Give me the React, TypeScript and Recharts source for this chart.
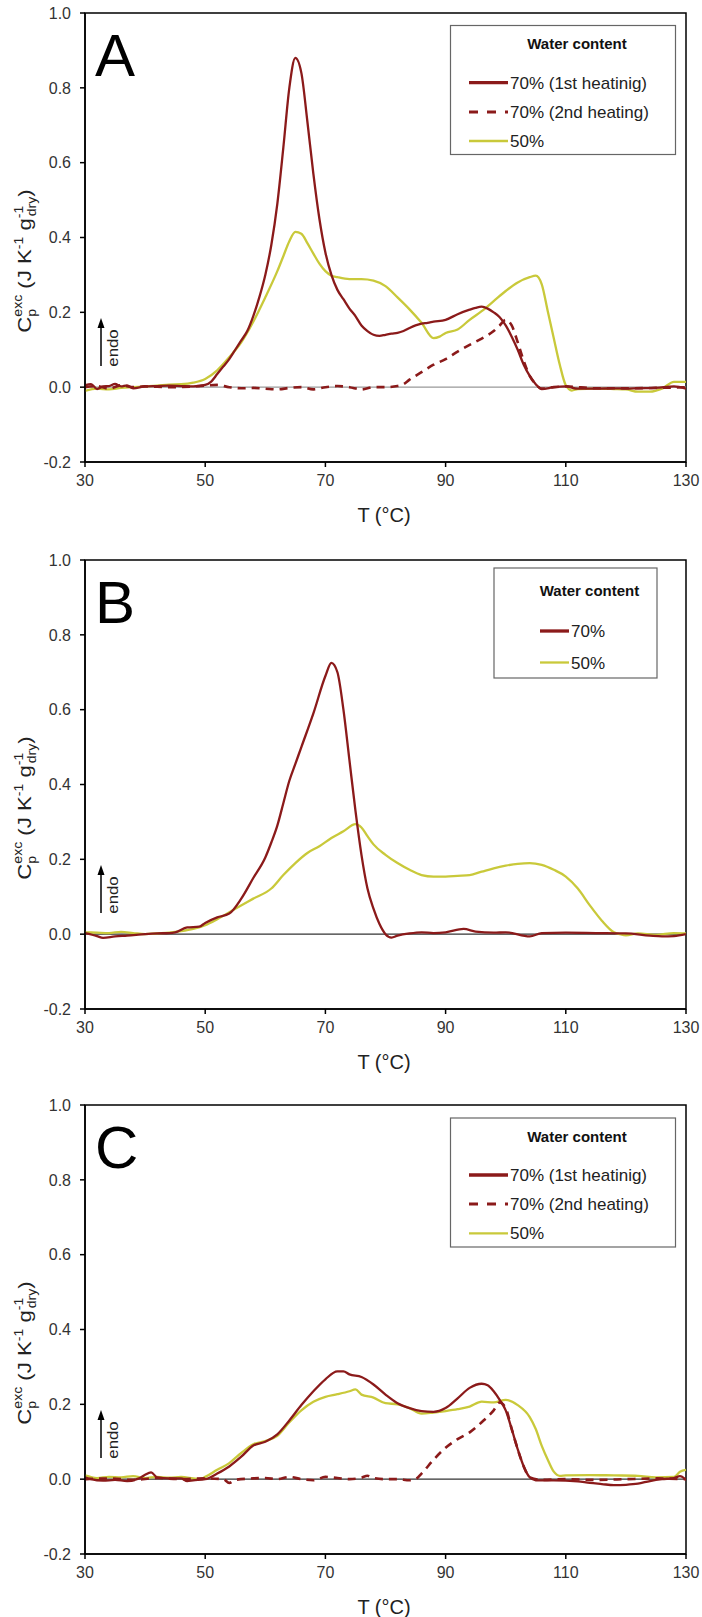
import React from 'react';
import { LineChart, Line, XAxis, YAxis, ReferenceLine, ReferenceArea } from 'recharts';

// temperature ticks and value ticks shared by the three panels
const xTicks = [30, 50, 70, 90, 110, 130];
const yTicks = [-0.2, 0, 0.2, 0.4, 0.6, 0.8, 1.0];

// Panel A
const aHeat1T = [30, 31, 32, 33, 34, 35, 36, 37, 38, 40, 42, 44, 46, 48, 50, 51, 52, 53, 54, 55, 56, 57, 58, 59, 60, 61, 62, 63, 64, 65, 66, 67, 68, 69, 70, 71, 72, 73, 74, 75, 76, 77, 78, 79, 80, 81, 82, 83, 84, 85, 86, 87, 88, 90, 92, 94, 95, 96, 97, 98, 99, 100, 101, 102, 103, 104, 105, 106, 108, 110, 112, 115, 118, 120, 122, 125, 128, 130];
const aHeat1 = [0.005, 0.008, -0.005, 0.002, 0.003, 0.009, 0.002, 0.005, -0.003, 0.002, 0.003, 0.004, 0.003, 0.002, 0.006, 0.015, 0.035, 0.055, 0.075, 0.1, 0.125, 0.15, 0.19, 0.24, 0.3, 0.38, 0.49, 0.64, 0.8, 0.88, 0.84, 0.71, 0.57, 0.45, 0.36, 0.3, 0.26, 0.235, 0.21, 0.19, 0.165, 0.15, 0.14, 0.137, 0.14, 0.143, 0.145, 0.15, 0.158, 0.165, 0.17, 0.172, 0.175, 0.18, 0.195, 0.207, 0.212, 0.215, 0.21, 0.2, 0.187, 0.165, 0.135, 0.1, 0.06, 0.03, 0.008, -0.005, 0, 0.002, -0.004, -0.004, -0.003, -0.004, -0.003, -0.002, 0.002, -0.004];
const aHeat2T = [30, 32, 34, 36, 38, 40, 44, 48, 50, 52, 54, 56, 58, 60, 62, 64, 66, 68, 70, 72, 74, 76, 78, 80, 82, 83, 84, 86, 88, 90, 92, 94, 96, 98, 99, 100, 101, 102, 103, 104, 105, 106, 108, 110, 115, 120, 125, 130];
const aHeat2 = [0, 0.003, -0.004, 0.005, 0, 0.002, 0, 0.002, 0.004, 0.006, 0, -0.003, -0.002, -0.004, -0.006, -0.002, 0, -0.006, 0, 0.003, 0, -0.006, 0, 0, 0.003, 0.008, 0.02, 0.04, 0.06, 0.075, 0.095, 0.113, 0.13, 0.15, 0.165, 0.18, 0.165, 0.12, 0.07, 0.03, 0.008, -0.004, 0, 0.002, -0.003, -0.003, -0.002, 0];
const a50T = [30, 32, 34, 36, 38, 40, 42, 44, 46, 48, 50, 52, 54, 56, 58, 60, 62, 63, 64, 65, 66, 67, 68, 69, 70, 71, 72, 74, 76, 78, 80, 82, 84, 86, 88, 89, 90, 92, 94, 96, 98, 100, 102, 104, 105, 106, 107, 108, 109, 110, 111, 112, 115, 118, 120, 122, 124, 126, 128, 130];
const a50 = [-0.01, -0.004, -0.006, -0.002, 0, 0.002, 0.004, 0.007, 0.008, 0.012, 0.022, 0.045, 0.08, 0.12, 0.175, 0.24, 0.31, 0.35, 0.39, 0.415, 0.41, 0.385, 0.357, 0.33, 0.31, 0.298, 0.294, 0.289, 0.289, 0.285, 0.27, 0.24, 0.208, 0.172, 0.131, 0.135, 0.145, 0.154, 0.18, 0.203, 0.23, 0.257, 0.28, 0.294, 0.298, 0.275, 0.203, 0.131, 0.06, 0.005, -0.009, -0.005, -0.004, -0.005, -0.006, -0.012, -0.012, -0.004, 0.014, 0.014];

// Panel B
const b70T = [30, 32, 33, 35, 37, 40, 42, 44, 45, 47, 49, 50, 52, 54, 56, 58, 60, 61, 62, 63, 64, 65, 66, 68, 70, 71, 72, 73, 74, 75, 76, 77, 78, 79, 80, 81, 82, 84, 86, 88, 90, 93, 95, 98, 100, 104, 106, 110, 115, 120, 124, 126, 128, 130];
const b70 = [0.003, -0.005, -0.01, -0.006, -0.004, 0, 0.002, 0.003, 0.005, 0.018, 0.02, 0.03, 0.045, 0.055, 0.095, 0.15, 0.205, 0.245, 0.29, 0.35, 0.41, 0.455, 0.5, 0.59, 0.69, 0.725, 0.7, 0.6, 0.465, 0.33, 0.212, 0.122, 0.068, 0.027, 0, -0.009, -0.004, 0.002, 0.005, 0.003, 0.005, 0.014, 0.007, 0.004, 0.005, -0.006, 0.003, 0.004, 0.003, 0.002, -0.004, -0.006, -0.005, 0];
const b50T = [30, 32, 34, 36, 38, 40, 42, 44, 46, 48, 50, 52, 55, 58, 61, 63, 65, 67, 69, 71, 73, 75, 76, 77, 78, 80, 82, 84, 86, 88, 90, 92, 94, 96, 98, 100, 102, 104, 106, 108, 110, 112, 114, 116, 118, 119, 120, 122, 125, 128, 130];
const b50 = [0.005, 0.004, 0.003, 0.006, 0.003, 0, 0.002, 0.004, 0.008, 0.014, 0.024, 0.04, 0.068, 0.095, 0.122, 0.158, 0.19, 0.217, 0.235, 0.257, 0.275, 0.294, 0.285, 0.262, 0.24, 0.212, 0.19, 0.172, 0.158, 0.154, 0.154, 0.156, 0.158, 0.167, 0.176, 0.183, 0.188, 0.19, 0.185, 0.172, 0.154, 0.122, 0.077, 0.036, 0.005, 0, -0.003, 0.002, -0.002, 0.003, 0.002];

// Panel C
const cHeat1T = [30, 31, 33, 35, 37, 39, 40, 41, 42, 44, 46, 47, 48, 50, 52, 54, 56, 58, 60, 62, 64, 66, 68, 70, 72, 73, 74, 76, 78, 80, 82, 84, 86, 88, 90, 92, 94, 96, 97, 98, 99, 100, 101, 102, 103, 104, 105, 108, 112, 114, 116, 118, 120, 122, 124, 126, 128, 129, 130];
const cHeat1 = [0.005, 0, -0.004, -0.002, -0.005, 0.002, 0.012, 0.018, 0.005, 0.002, 0.002, -0.005, -0.003, 0, 0.015, 0.034, 0.06, 0.09, 0.1, 0.12, 0.157, 0.198, 0.235, 0.267, 0.288, 0.288, 0.28, 0.273, 0.253, 0.226, 0.203, 0.19, 0.182, 0.18, 0.19, 0.216, 0.244, 0.255, 0.251, 0.235, 0.212, 0.184, 0.134, 0.08, 0.034, 0.005, -0.003, -0.003, -0.006, -0.01, -0.013, -0.016, -0.015, -0.012, -0.005, 0, 0.003, 0.008, -0.002];
const cHeat2T = [30, 34, 38, 42, 46, 50, 53, 54, 55, 58, 60, 62, 64, 66, 68, 70, 72, 74, 76, 77, 78, 80, 82, 84, 85, 86, 88, 90, 92, 94, 96, 98, 99, 100, 101, 102, 103, 104, 106, 110, 115, 120, 125, 130];
const cHeat2 = [0, 0.002, -0.002, 0.003, 0, 0.002, 0, -0.01, -0.002, 0.002, 0.003, 0, 0.006, 0, -0.003, 0.006, 0.003, 0, 0.004, 0.009, 0.003, 0, 0, -0.003, 0, 0.015, 0.052, 0.084, 0.107, 0.125, 0.152, 0.184, 0.205, 0.19, 0.134, 0.08, 0.034, 0.005, -0.002, 0, -0.002, 0, 0.002, 0];
const c50T = [30, 32, 34, 36, 38, 40, 42, 44, 46, 48, 49, 50, 52, 54, 56, 58, 60, 62, 64, 66, 68, 70, 72, 74, 75, 76, 78, 80, 82, 84, 86, 88, 90, 92, 94, 96, 98, 100, 102, 104, 105, 106, 107, 108, 109, 110, 114, 118, 122, 125, 128, 129, 130];
const c50 = [0.01, 0.003, 0.006, 0.005, 0.008, 0.003, 0.006, 0.004, 0.006, 0.002, 0, 0.006, 0.025, 0.043, 0.07, 0.093, 0.102, 0.116, 0.152, 0.184, 0.207, 0.22, 0.227, 0.235, 0.24, 0.226, 0.218, 0.203, 0.2, 0.19, 0.175, 0.178, 0.182, 0.187, 0.194, 0.207, 0.205, 0.212, 0.198, 0.166, 0.134, 0.089, 0.052, 0.02, 0.009, 0.01, 0.011, 0.01, 0.009, 0.005, 0.006, 0.02, 0.025];

const RED = '#8b1a1a';
const YELLOW = '#c9c93a';
const FONT = '"Liberation Sans", Arial, sans-serif';

const W = 702;
const H = 546;

const toPoints = (ts: number[], vs: number[]) => ts.map((t, i) => ({ t, v: vs[i] }));

interface Series {
  name: string;
  data: { t: number; v: number }[];
  color: string;
  width: number;
  dashed?: boolean;
}

interface LegendBox {
  x: number;
  y: number;
  w: number;
  h: number;
  titleY: number;
  rows: number[];
  lineX1: number;
  lineX2: number;
}

interface PanelProps {
  letter: string;
  top: number;
  series: Series[];
  legendOrder: Series[];
  legend: LegendBox;
  zeroColor: string;
}

// the source figure is stretched vertically, so rotated text runs a bit longer
const YTitle = () => (
  <text transform="translate(31,261) rotate(-90) scale(1.17,1)" textAnchor="middle" fontSize={19} fill="#222" fontFamily={FONT}>
    C
    <tspan fontSize={12} dy={5}>p</tspan>
    <tspan fontSize={12} dx={-6.7} dy={-14}>exc</tspan>
    <tspan fontSize={19} dy={9}> (J K</tspan>
    <tspan fontSize={12} dy={-8}>-1</tspan>
    <tspan fontSize={19} dy={8}> g</tspan>
    <tspan fontSize={12} dy={-8}>-1</tspan>
    <tspan fontSize={12} dx={-9} dy={13}>dry</tspan>
    <tspan fontSize={19} dy={-5}>)</tspan>
  </text>
);

const Panel: React.FC<PanelProps> = ({ letter, top, series, legendOrder, legend, zeroColor }) => {
  const tickStyle = { fill: '#333', fontSize: 16, fontFamily: FONT };
  return (
    <div style={{ position: 'absolute', left: 0, top, width: W, height: H }}>
      <LineChart width={W} height={H} margin={{ top: 13, right: 16, bottom: 0, left: 0 }}>
        <XAxis
          dataKey="t"
          type="number"
          domain={[30, 130]}
          ticks={xTicks}
          allowDataOverflow
          height={84}
          tick={tickStyle}
          tickSize={5}
          tickMargin={8}
          stroke="#000"
          strokeWidth={1.5}
        />
        <YAxis
          type="number"
          domain={[-0.2, 1.0]}
          ticks={yTicks}
          allowDataOverflow
          width={85}
          tick={tickStyle}
          tickSize={5}
          tickMargin={9}
          tickFormatter={(v: number) => v.toFixed(1)}
          stroke="#000"
          strokeWidth={1.5}
        />
        <ReferenceArea x1={30} x2={130} y1={-0.2} y2={1.0} fill="none" stroke="#000" strokeWidth={1.5} />
        <ReferenceLine y={0} stroke={zeroColor} strokeWidth={1.2} />
        {series.map((s) => (
          <Line
            key={s.name}
            data={s.data}
            dataKey="v"
            name={s.name}
            type="monotone"
            dot={false}
            activeDot={false}
            stroke={s.color}
            strokeWidth={s.width}
            strokeDasharray={s.dashed ? '8 6' : undefined}
            isAnimationActive={false}
          />
        ))}
      </LineChart>
      <svg width={W} height={H} style={{ position: 'absolute', left: 0, top: 0, pointerEvents: 'none' }}>
        <text x={95} y={76} fontSize={60} fontFamily={FONT} fill="#000">{letter}</text>
        <YTitle />
        <line x1={101} y1={366} x2={101} y2={327} stroke="#000" strokeWidth={1.5} />
        <polygon points="101,318 97.5,328 104.5,328" fill="#000" />
        <text transform="translate(118,348) rotate(-90) scale(1.12,1)" textAnchor="middle" fontSize={15} fontFamily={FONT} fill="#222">endo</text>
        <text x={384} y={522} textAnchor="middle" fontSize={20} fontFamily={FONT} fill="#222">T (°C)</text>
        <rect x={legend.x} y={legend.y} width={legend.w} height={legend.h} fill="#fff" stroke="#666" strokeWidth={1.2} />
        <text x={legend.x + legend.w / 2 + 14} y={legend.titleY + 5} textAnchor="middle" fontSize={15} fontWeight="bold" fontFamily={FONT} fill="#111">
          Water content
        </text>
        {legendOrder.map((s, i) => (
          <g key={s.name}>
            <line
              x1={legend.lineX1}
              x2={legend.lineX2}
              y1={legend.rows[i]}
              y2={legend.rows[i]}
              stroke={s.color}
              strokeWidth={s.dashed ? 3 : s.width + (s.color === RED ? 1 : 0)}
              strokeDasharray={s.dashed ? '9 9' : undefined}
            />
            <text x={legend.lineX2 + 2} y={legend.rows[i] + 6} fontSize={17} fontFamily={FONT} fill="#222">
              {s.name}
            </text>
          </g>
        ))}
      </svg>
    </div>
  );
};

const App: React.FC = () => {
  const a1: Series = { name: '70% (1st heatinig)', data: toPoints(aHeat1T, aHeat1), color: RED, width: 2.3 };
  const a2: Series = { name: '70% (2nd heating)', data: toPoints(aHeat2T, aHeat2), color: RED, width: 2.6, dashed: true };
  const a3: Series = { name: '50%', data: toPoints(a50T, a50), color: YELLOW, width: 2.3 };

  const b1: Series = { name: '70%', data: toPoints(b70T, b70), color: RED, width: 2.3 };
  const b2: Series = { name: '50%', data: toPoints(b50T, b50), color: YELLOW, width: 2.3 };

  const c1: Series = { name: '70% (1st heatinig)', data: toPoints(cHeat1T, cHeat1), color: RED, width: 2.3 };
  const c2: Series = { name: '70% (2nd heating)', data: toPoints(cHeat2T, cHeat2), color: RED, width: 2.6, dashed: true };
  const c3: Series = { name: '50%', data: toPoints(c50T, c50), color: YELLOW, width: 2.3 };

  const bigLegend: LegendBox = { x: 450.5, y: 25.5, w: 225, h: 129, titleY: 44, rows: [82.7, 112, 141], lineX1: 469, lineX2: 508 };

  return (
    <div style={{ position: 'absolute', left: 0, top: 0, width: 702, height: 1617, background: '#fff', fontFamily: FONT }}>
      <Panel letter="A" top={0} series={[a3, a1, a2]} legendOrder={[a1, a2, a3]} legend={bigLegend} zeroColor="#999" />
      <Panel
        letter="B"
        top={547}
        series={[b2, b1]}
        legendOrder={[b1, b2]}
        legend={{ x: 494, y: 21, w: 163, h: 110, titleY: 44, rows: [84, 115.5], lineX1: 540, lineX2: 569 }}
        zeroColor="#333"
      />
      <Panel
        letter="C"
        top={1092}
        series={[c3, c1, c2]}
        legendOrder={[c1, c2, c3]}
        legend={{ ...bigLegend, y: 26, titleY: 44.5, rows: [83, 112, 141.4] }}
        zeroColor="#333"
      />
    </div>
  );
};

export default App;
